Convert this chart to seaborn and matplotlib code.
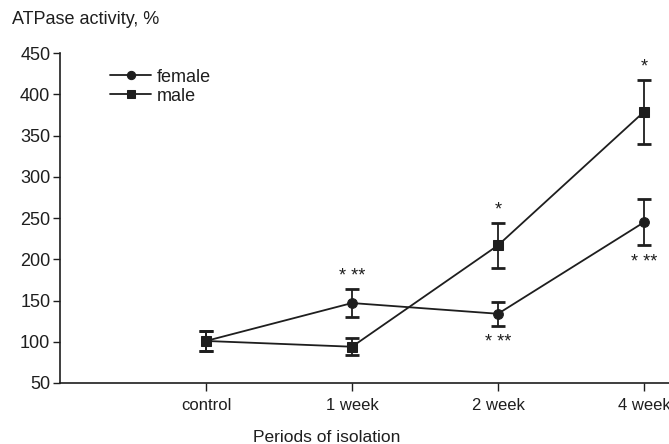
import matplotlib
matplotlib.use("Agg")
import matplotlib.pyplot as plt
import pandas as pd
import seaborn as sns

# ---------------------------------------------------------------------------
# Data
# ---------------------------------------------------------------------------

PERIODS = ["control", "1 week", "2 week", "4 week"]

FEMALE_MEAN = [101, 147, 134, 245]
FEMALE_ERR = [12, 17, 14.5, 28]
FEMALE_STARS = ["", "* **", "* **", "* **"]
FEMALE_STAR_SIDE = ["", "above", "below", "below"]

MALE_MEAN = [101, 94, 217, 379]
MALE_ERR = [12, 10.5, 27.5, 38.5]
MALE_STARS = ["", "", "*", "*"]
MALE_STAR_SIDE = ["", "", "above", "above"]

Y_TICKS = [50, 100, 150, 200, 250, 300, 350, 400, 450]

sns.set_style("ticks")
plt.rcParams["font.family"] = ["Liberation Sans", "DejaVu Sans"]

pos = list(range(1, len(PERIODS) + 1))
df = pd.concat([
    pd.DataFrame({"pos": pos, "value": FEMALE_MEAN, "err": FEMALE_ERR,
                  "stars": FEMALE_STARS, "side": FEMALE_STAR_SIDE, "sex": "female"}),
    pd.DataFrame({"pos": pos, "value": MALE_MEAN, "err": MALE_ERR,
                  "stars": MALE_STARS, "side": MALE_STAR_SIDE, "sex": "male"}),
], ignore_index=True)

fig = plt.figure(figsize=(6.69, 4.44), dpi=100)
ax = fig.add_axes([60 / 669, 0.1374, 609 / 669, 0.7426])

ink = "#1e1e1e"
sns.lineplot(data=df, x="pos", y="value", hue="sex", style="sex",
             markers={"female": "o", "male": "s"}, dashes=False,
             palette={"female": ink, "male": ink}, linewidth=1.3,
             markersize=7, markeredgecolor=ink, ax=ax)

for _, grp in df.groupby("sex"):
    ax.errorbar(grp["pos"], grp["value"], yerr=grp["err"], fmt="none",
                ecolor=ink, elinewidth=1.3, capsize=4.8, capthick=2)

for _, r in df.iterrows():
    if not r["stars"]:
        continue
    if r["side"] == "above":
        y, dy, va = r["value"] + r["err"], 3, "bottom"
    else:
        y, dy, va = r["value"] - r["err"], -6, "top"
    ax.annotate(r["stars"], (r["pos"], y), xytext=(0, dy),
                textcoords="offset points", ha="center", va=va,
                fontsize=13, color=ink)

ax.set_xlim(0, 609 / 146)
ax.set_ylim(50, 450)
ax.set_yticks(Y_TICKS)
ax.set_xticks(pos)
ax.set_xticklabels(PERIODS, fontsize=12, color=ink)
ax.tick_params(axis="y", labelsize=13, colors=ink, length=5, width=1, pad=2)
ax.tick_params(axis="x", length=6, width=1, pad=5, colors=ink)
ax.set_xlabel("")
ax.set_ylabel("")
sns.despine(ax=ax)
for side in ("left", "bottom"):
    ax.spines[side].set_color(ink)
    ax.spines[side].set_linewidth(1.2)

leg = ax.legend(loc="upper left", bbox_to_anchor=(0.07, 0.975), frameon=False,
                fontsize=13, handlelength=2.3, handletextpad=0.3,
                labelspacing=0.1, borderaxespad=0, markerscale=0.85)
for t in leg.get_texts():
    t.set_color(ink)

fig.text(12 / 669, 1 - 20 / 444, "ATPase activity, %", fontsize=13,
         color=ink, ha="left", va="center")
fig.text(327 / 669, 1 - 437 / 444, "Periods of isolation", fontsize=12.5,
         color=ink, ha="center", va="center")

fig.savefig("out.png", dpi=100)
